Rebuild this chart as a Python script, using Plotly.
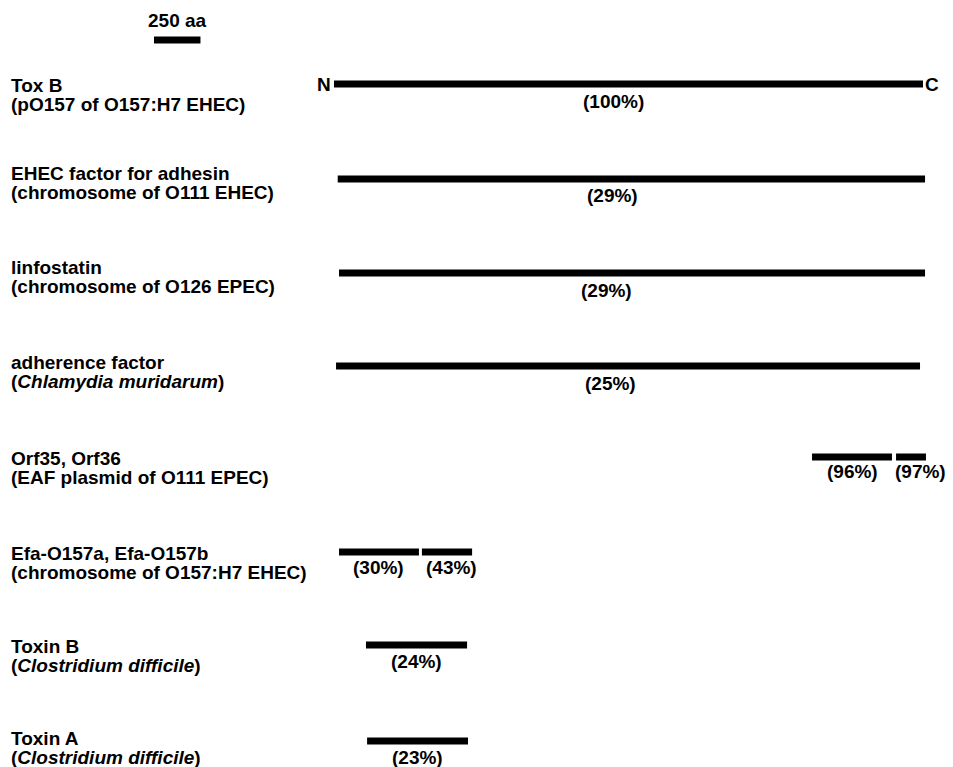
import plotly.graph_objects as go

# ---- data (amino-acid coordinates, aligned to Tox B start = 0) ----
row_title = ["Tox B", "EHEC factor for adhesin", "linfostatin", "adherence factor",
             "Orf35, Orf36", "Efa-O157a, Efa-O157b", "Toxin B", "Toxin A"]
row_source = ["(pO157 of O157:H7 EHEC)", "(chromosome of O111 EHEC)",
              "(chromosome of O126 EPEC)", "(<i>Chlamydia muridarum</i>)",
              "(EAF plasmid of O111 EPEC)", "(chromosome of O157:H7 EHEC)",
              "(<i>Clostridium difficile</i>)", "(<i>Clostridium difficile</i>)"]
# segments: (row index, start aa, end aa, identity label)
seg_row = [0, 1, 2, 3, 4, 4, 5, 5, 6, 7]
seg_start = [0, 20, 27, 11, 2572, 3024, 27, 473, 172, 178]
seg_end = [3169, 3180, 3180, 3153, 3002, 3185, 457, 743, 716, 721]
seg_label = ["(100%)", "(29%)", "(29%)", "(25%)", "(96%)", "(97%)",
             "(30%)", "(43%)", "(24%)", "(23%)"]
scale_len = 250
scale_label = "250 aa"

# ---- layout geometry (pixels) ----
W, H = 953, 767
OFF = 8                   # page body margin
k = 589 / 3169.0          # px per aa
x0_px = 334               # px position of aa 0
row_y = [84, 179, 273, 366, 457, 552, 645, 741]
title_y = [85, 173, 267, 362, 458, 553, 646, 738]
line_gap = 19
label_dy = [17, 16, 17, 17, 14, 14, 15, 15, 16, 16]
label_dx = [-15, -19, -26, -18, 0, 9, 0, 4, 0, 0]
bar_h = 7
FONT = "Liberation Sans, Arial, sans-serif"
fs = 19

def aa(px):
    return (px - x0_px) / k

fig = go.Figure()
fig.add_trace(go.Bar(
    orientation="h",
    base=seg_start,
    x=[e - s for s, e in zip(seg_start, seg_end)],
    y=[row_y[r] for r in seg_row],
    width=bar_h,
    marker=dict(color="black", line=dict(width=0)),
    hoverinfo="skip", showlegend=False,
))
# scale bar
scale_start = aa(154)
fig.add_trace(go.Bar(
    orientation="h", base=[scale_start], x=[scale_len], y=[40], width=bar_h,
    marker=dict(color="black", line=dict(width=0)), hoverinfo="skip", showlegend=False,
))

ann = []
ann.append(dict(x=scale_start + scale_len / 2, y=20, text="<b>" + scale_label + "</b>",
                showarrow=False, xanchor="center", yanchor="middle"))
for i, (t, s) in enumerate(zip(row_title, row_source)):
    ann.append(dict(x=aa(9), y=title_y[i], text="<b>" + t + "</b>", showarrow=False,
                    xanchor="left", yanchor="middle"))
    ann.append(dict(x=aa(9), y=title_y[i] + line_gap, text="<b>" + s + "</b>", showarrow=False,
                    xanchor="left", yanchor="middle"))
for j, (r, s, e, lab) in enumerate(zip(seg_row, seg_start, seg_end, seg_label)):
    ann.append(dict(x=(s + e) / 2, y=row_y[r] + label_dy[j], text="<b>" + lab + "</b>",
                    showarrow=False, xanchor="center", yanchor="middle",
                    xshift=label_dx[j]))
# N / C termini on Tox B
ann.append(dict(x=seg_start[0], y=row_y[0], text="<b>N</b>", showarrow=False,
                xanchor="right", yanchor="middle", xshift=-1))
ann.append(dict(x=seg_end[0], y=row_y[0], text="<b>C</b>", showarrow=False,
                xanchor="left", yanchor="middle", xshift=0))

fig.update_layout(
    width=W - OFF, height=H - OFF, margin=dict(l=0, r=0, t=0, b=0),
    paper_bgcolor="white", plot_bgcolor="white",
    font=dict(family=FONT, size=fs, color="black"),
    annotations=ann, barmode="overlay",
    xaxis=dict(range=[aa(OFF), aa(W)], visible=False, fixedrange=True),
    yaxis=dict(range=[H, OFF], visible=False, fixedrange=True),
)
fig.write_html("out.html")
